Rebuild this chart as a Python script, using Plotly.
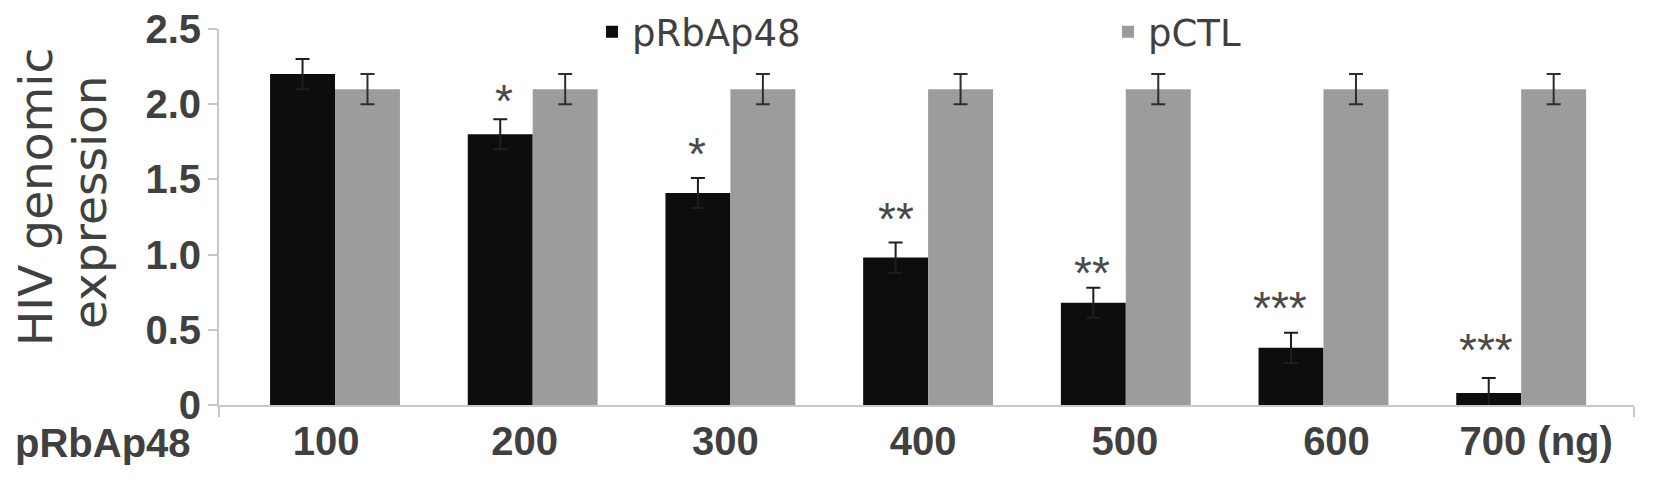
import plotly.graph_objects as go

# ---- data ----
doses = ["100", "200", "300", "400", "500", "600", "700 (ng)"]
prbap48_vals = [2.20, 1.80, 1.41, 0.98, 0.68, 0.38, 0.08]
prbap48_err = [0.10, 0.10, 0.10, 0.10, 0.10, 0.10, 0.10]
pctl_vals = [2.10, 2.10, 2.10, 2.10, 2.10, 2.10, 2.10]
pctl_err = [0.10, 0.10, 0.10, 0.10, 0.10, 0.10, 0.10]
stars = ["", "*", "*", "**", "**", "***", "***"]
y_tickvals = [0, 0.5, 1.0, 1.5, 2.0, 2.5]
y_ticktext = ["0", "0.5", "1.0", "1.5", "2.0", "2.5"]

# ---- layout helpers (pixel geometry) ----
W, H = 1654, 484
L, R, T, B = 219, 20, 29, 79
plot_w = W - L - R
plot_h = H - T - B
x_range = [-0.5868, 6.5706]
px_per_unit = plot_w / (x_range[1] - x_range[0])
label_nudge_px = [-9, -8, -5, -5, -1, 13, 15]
star_gap_px = [0, 23, 29, 29, 20, 30, 33]
star_nudge_px = [0, 4, -1, 0, -1, -11, -3]
bargap = 0.343
bar_w = (1 - bargap) / 2

TXT = "#404040"
TICKFONT = dict(family="Liberation Sans, Arial", size=40, color=TXT, weight="bold")
LEGFONT = dict(family="DejaVu Sans", size=37, color=TXT)

xs = list(range(len(doses)))

fig = go.Figure()
fig.add_trace(go.Bar(
    x=xs, y=prbap48_vals, name="pRbAp48", legend="legend", showlegend=True,
    marker=dict(color="#0d0d0d", line=dict(width=0)),
    error_y=dict(type="data", array=prbap48_err, color="#1e1e1e", thickness=2, width=7),
))
fig.add_trace(go.Bar(
    x=xs, y=pctl_vals, name="pCTL", legend="legend2", showlegend=True,
    marker=dict(color="#9c9c9c", line=dict(width=0)),
    error_y=dict(type="data", array=pctl_err, color="#2e2e2e", thickness=2, width=7),
))

annotations = []
# significance stars above black bars
for i, s in enumerate(stars):
    if not s:
        continue
    annotations.append(dict(
        x=xs[i] - bar_w / 2, y=prbap48_vals[i] + prbap48_err[i],
        xref="x", yref="y", text=s, showarrow=False,
        xanchor="center", yanchor="middle",
        xshift=star_nudge_px[i], yshift=star_gap_px[i] - 5,
        font=dict(family="Liberation Sans, Arial", size=46, color="#4a4a4a"),
    ))

# left label of x axis
annotations.append(dict(
    x=(13 - L) / plot_w, y=0, xref="paper", yref="paper",
    text="pRbAp48", showarrow=False, xanchor="left", yanchor="top",
    yshift=-14, font=TICKFONT,
))

# y-axis title (two lines)
for txt, cx, cy in [("HIV genomic", 35, 197), ("expression", 89.5, 202.5)]:
    annotations.append(dict(
        x=(cx - L) / plot_w, y=(H - B - cy) / plot_h,
        xref="paper", yref="paper", text=txt, showarrow=False,
        textangle=-90, xanchor="center", yanchor="middle",
        font=dict(family="DejaVu Sans", size=47, color=TXT),
    ))

tickvals_x = [xs[i] + label_nudge_px[i] / px_per_unit for i in range(len(xs))]

fig.update_layout(
    width=W, height=H, autosize=False,
    margin=dict(l=L, r=R, t=T, b=B, pad=0, autoexpand=False),
    paper_bgcolor="white", plot_bgcolor="white",
    showlegend=True,
    barmode="group", bargap=bargap, bargroupgap=0,
    annotations=annotations,
    legend=dict(
        x=(592 - L) / plot_w, xanchor="left", y=1.074, yanchor="top",
        orientation="h", bgcolor="rgba(0,0,0,0)", borderwidth=0, font=LEGFONT,
    ),
    legend2=dict(
        x=(1108 - L) / plot_w, xanchor="left", y=1.074, yanchor="top",
        orientation="h", bgcolor="rgba(0,0,0,0)", borderwidth=0, font=LEGFONT,
    ),
    xaxis=dict(
        range=x_range, showgrid=False, zeroline=False,
        showline=True, linecolor="#c8c8c8", linewidth=2,
        tickmode="array", tickvals=tickvals_x, ticktext=doses,
        ticks="", tickfont=TICKFONT, ticklabelstandoff=0,
        minor=dict(tickmode="array", tickvals=[x_range[0] + 0.001, x_range[1] - 0.001],
                   ticks="outside", ticklen=10, tickcolor="#c8c8c8", tickwidth=2),
    ),
    yaxis=dict(
        range=[0, 2.5], showgrid=False, zeroline=False,
        showline=True, linecolor="#c8c8c8", linewidth=2,
        tickmode="array", tickvals=y_tickvals, ticktext=y_ticktext,
        ticks="outside", ticklen=9, tickcolor="#c8c8c8", tickwidth=2,
        tickfont=dict(family="Liberation Sans, Arial", size=40, color=TXT, weight="bold"),
        ticklabelstandoff=-1,
    ),
)

fig.write_html("out.html", config={"displayModeBar": False},
               post_script="document.body.style.margin='0';")
